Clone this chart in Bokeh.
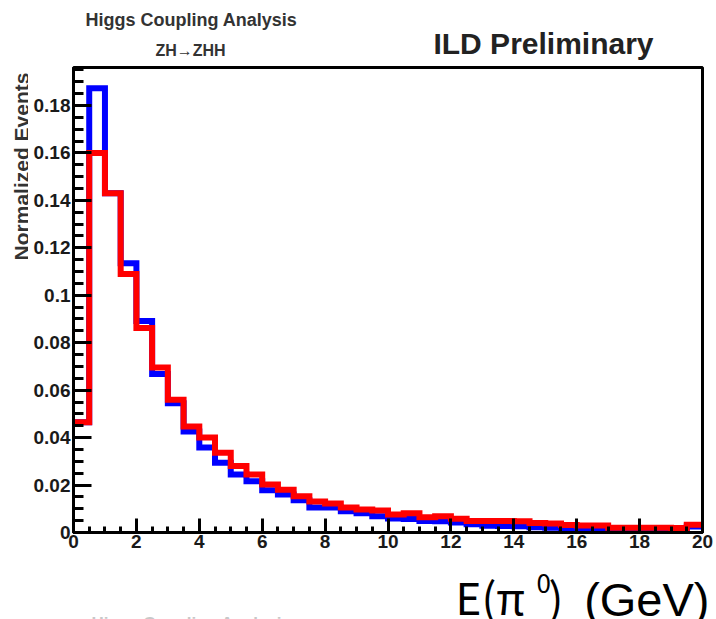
import numpy as np
from bokeh.plotting import figure
from bokeh.models import Label, FixedTicker, Range1d
from bokeh.layouts import column, row
from bokeh.embed import file_html
from bokeh.resources import INLINE

# ---- data ----
bin_edges = [i * 0.5 for i in range(41)]  # 0 .. 20 GeV, 0.5 GeV bins

blue_values = [0.0465, 0.1873, 0.143, 0.1135, 0.0892, 0.0668, 0.0545, 0.0426,
               0.0358, 0.0294, 0.0244, 0.0216, 0.0178, 0.0160, 0.0136, 0.0105,
               0.0105, 0.0090, 0.0081, 0.0069, 0.0059, 0.0057, 0.0048, 0.0047,
               0.0042, 0.0035, 0.0028, 0.0027, 0.0026, 0.0022, 0.0020, 0.0018,
               0.0016, 0.0015, 0.0013, 0.0012, 0.0011, 0.0010, 0.0014, 0.0025]

red_values = [0.0465, 0.160, 0.143, 0.109, 0.0862, 0.0695, 0.056, 0.0447,
              0.040, 0.0336, 0.028, 0.0245, 0.0202, 0.018, 0.0153, 0.0131,
              0.0122, 0.0105, 0.0097, 0.0093, 0.0076, 0.0081, 0.0064, 0.0068,
              0.0058, 0.0048, 0.0048, 0.0048, 0.0047, 0.0040, 0.0038, 0.0032,
              0.0030, 0.0029, 0.0020, 0.0020, 0.0020, 0.0020, 0.0019, 0.0033]

x_ticks = [0, 2, 4, 6, 8, 10, 12, 14, 16, 18, 20]
x_tick_labels = ["0", "2", "4", "6", "8", "10", "12", "14", "16", "18", "20"]
y_ticks = [0, 0.02, 0.04, 0.06, 0.08, 0.1, 0.12, 0.14, 0.16, 0.18]
y_tick_labels = ["0", "0.02", "0.04", "0.06", "0.08", "0.1", "0.12", "0.14", "0.16", "0.18"]

W, H = 716, 619
TOP_H = 62          # header strip
BOT_H = 59          # footer strip
LEFT_W = 28         # strip holding the y title
MAIN_H = H - TOP_H - BOT_H
MAIN_W = W - LEFT_W
FRAME_TOP, FRAME_BOTTOM = 67, 532   # page rows of the plot frame
FONT = "Liberation Sans"
JFONT = "Noto Sans CJK JP"


def blank(width, height):
    f = figure(width=width, height=height, output_backend="svg", toolbar_location=None,
               title=None, x_axis_type=None, y_axis_type=None,
               x_range=Range1d(0, 1), y_range=Range1d(0, 1),
               min_border=0, min_border_left=0, min_border_right=0,
               min_border_top=0, min_border_bottom=0)
    f.outline_line_color = None
    f.grid.visible = False
    f.background_fill_color = "white"
    f.border_fill_color = "white"
    return f


# ---- main plot ----
p = figure(width=MAIN_W, height=MAIN_H, output_backend="svg", toolbar_location=None,
           title=None, x_range=Range1d(0, 20), y_range=Range1d(0, 0.196),
           min_border_left=73 - LEFT_W, min_border_right=14,
           min_border_top=FRAME_TOP - TOP_H, min_border_bottom=TOP_H + MAIN_H - FRAME_BOTTOM)
p.background_fill_color = "white"
p.border_fill_color = "white"
p.outline_line_color = "black"
p.outline_line_width = 3
p.grid.visible = False


def step_xy(values):
    return list(bin_edges), list(values) + [values[-1]]


bx, by = step_xy(blue_values)
rx, ry = step_xy(red_values)
p.step(bx, by, mode="after", line_color="#0000ff", line_width=6, line_join="miter")
p.step(rx, ry, mode="after", line_color="#ff0000", line_width=6, line_join="miter")

x_minor = [i * 0.5 for i in range(41)]
y_minor = [i * 0.005 for i in range(40)]
p.xaxis.ticker = FixedTicker(ticks=x_ticks, minor_ticks=x_minor)
p.yaxis.ticker = FixedTicker(ticks=y_ticks, minor_ticks=y_minor)
p.xaxis.major_label_overrides = {t: l for t, l in zip(x_ticks, x_tick_labels)}
p.yaxis.major_label_overrides = {t: l for t, l in zip(y_ticks, y_tick_labels)}

for ax in (p.xaxis[0], p.yaxis[0]):
    ax.axis_line_color = "black"
    ax.axis_line_width = 3
    ax.major_tick_line_color = "black"
    ax.minor_tick_line_color = "black"
    ax.major_tick_line_width = 3
    ax.minor_tick_line_width = 3
    ax.major_tick_out = 0
    ax.minor_tick_out = 0
    ax.major_label_text_font = FONT
    ax.major_label_text_font_style = "bold"
    ax.major_label_text_font_size = "19px"
    ax.major_label_text_color = "#1a1a1a"

p.xaxis.major_tick_in = 14
p.xaxis.minor_tick_in = 6
p.yaxis.major_tick_in = 18
p.yaxis.minor_tick_in = 10
p.xaxis.major_label_standoff = 2
p.yaxis.major_label_standoff = 3

# ---- header ----
top = blank(W, TOP_H)
top.add_layout(Label(x=191, y=TOP_H - 19, x_units="screen", y_units="screen",
                     text="Higgs Coupling Analysis", text_align="center",
                     text_baseline="middle", text_font=FONT, text_font_style="bold",
                     text_font_size="18px", text_color="#333333"))
top.add_layout(Label(x=190, y=TOP_H - 50, x_units="screen", y_units="screen",
                     text="ZH\u2192ZHH", text_align="center",
                     text_baseline="middle", text_font=FONT, text_font_style="bold",
                     text_font_size="16px", text_color="#333333"))
top.add_layout(Label(x=543, y=TOP_H - 43, x_units="screen", y_units="screen",
                     text="ILD Preliminary", text_align="center",
                     text_baseline="middle", text_font=FONT, text_font_style="bold",
                     text_font_size="30px", text_color="#222222"))

# ---- y title strip (its frame is aligned with the main frame) ----
left = blank(LEFT_W, MAIN_H)
left.add_layout(Label(x=21, y=FRAME_BOTTOM - 166, x_units="screen", y_units="screen",
                      text="Normalized Events", angle=np.pi / 2,
                      text_align="center", text_baseline="middle",
                      text_font=FONT, text_font_style="bold", text_font_size="21px",
                      text_color="#333333"))

# ---- footer: x title ----
bot = blank(W, BOT_H)
bot.add_layout(Label(x=455, y=24, x_units="screen", y_units="screen",
                     text="E(\u03c0", text_align="left", text_baseline="middle",
                     text_font=JFONT, text_font_size="44px", text_color="black"))
bot.add_layout(Label(x=536, y=36, x_units="screen", y_units="screen",
                     text="0", text_align="left", text_baseline="middle",
                     text_font=JFONT, text_font_size="26px", text_color="black"))
bot.add_layout(Label(x=548, y=24, x_units="screen", y_units="screen",
                     text=")", text_align="left", text_baseline="middle",
                     text_font=JFONT, text_font_size="44px", text_color="black"))
bot.add_layout(Label(x=709, y=20, x_units="screen", y_units="screen",
                     text="(GeV)", text_align="right", text_baseline="middle",
                     text_font=FONT, text_font_size="47px", text_color="black"))
bot.add_layout(Label(x=191, y=H - 613, x_units="screen", y_units="screen",
                     text="Higgs Coupling Analysis", text_align="center",
                     text_baseline="top", text_font=FONT, text_font_style="bold",
                     text_font_size="17px", text_color="#c8c8c8"))

layout = column(top, row(left, p, spacing=0), bot, spacing=0)
open("out.html", "w").write(file_html(layout, INLINE))
